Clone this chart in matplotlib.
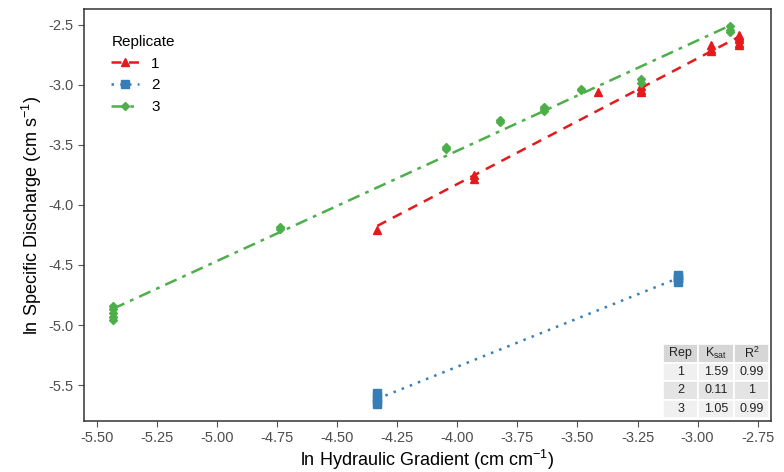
import numpy as np
import matplotlib.pyplot as plt

plt.rcParams['font.family'] = ['Liberation Sans', 'DejaVu Sans']
plt.rcParams['axes.unicode_minus'] = False
plt.rcParams['mathtext.default'] = 'regular'

# ln hydraulic gradient / ln specific discharge, per replicate
x1 = [-4.333, -3.929, -3.929, -3.415, -3.235, -3.235, -3.235,
      -2.945, -2.945, -2.945, -2.828, -2.828, -2.828, -2.828]
y1 = [-4.21, -3.75, -3.78, -3.06, -3.01, -3.04, -3.06,
      -2.67, -2.70, -2.72, -2.58, -2.62, -2.65, -2.67]
x2 = [-4.333, -4.333, -4.333, -4.333, -3.082, -3.082, -3.082]
y2 = [-5.57, -5.60, -5.63, -5.66, -4.58, -4.61, -4.64]
x3 = [-5.433, -5.433, -5.433, -5.433, -5.433, -4.738, -4.738,
      -4.046, -4.046, -3.822, -3.822, -3.64, -3.64, -3.64,
      -3.485, -3.485, -3.235, -3.235, -2.867, -2.867]
y3 = [-4.84, -4.87, -4.90, -4.93, -4.96, -4.18, -4.20,
      -3.52, -3.53, -3.29, -3.31, -3.18, -3.20, -3.22,
      -3.03, -3.04, -2.95, -2.98, -2.54, -2.56]

reps = ['1', '2', '3']
ksat = ['1.59', '0.11', '1.05']
r2 = ['0.99', '1', '0.99']

colors = ['#E41A1C', '#377EB8', '#4DAF4A']
markers = ['^', 's', 'D']
msizes = [6, 5.5, 4.2]
styles = [(0, (4, 3)), (0, (1, 2.5)), (0, (5, 2.5, 1.5, 2.5))]

fig = plt.figure(figsize=(7.84, 4.72), dpi=100)
ax = fig.add_axes([0.107, 0.108, 0.876, 0.873])

for xs, ys, c, m, ms, ls, lab in zip([x1, x2, x3], [y1, y2, y3], colors,
                                     markers, msizes, styles, reps):
    xs = np.array(xs)
    ys = np.array(ys)
    k, b = np.polyfit(xs, ys, 1)
    xl = np.array([xs.min(), xs.max()])
    ax.plot(xl, k * xl + b, color=c, lw=1.8, ls=ls, label=lab,
            marker=m, ms=ms, markevery=[1])
    ax.plot(xs, ys, ls='none', marker=m, ms=ms, color=c, mec=c)

ax.set_xlim(-5.554, -2.696)
ax.set_ylim(-5.8, -2.367)
ax.set_xticks(np.arange(-5.5, -2.74, 0.25))
ax.set_xticklabels(['%.2f' % v for v in np.arange(-5.5, -2.74, 0.25)])
ax.set_yticks(np.arange(-5.5, -2.49, 0.5))
ax.tick_params(colors='#555555', labelcolor='#4d4d4d', labelsize=10.5,
               length=4)
for s in ax.spines.values():
    s.set_color('#333333')
    s.set_linewidth(1.1)

ax.set_xlabel('ln Hydraulic Gradient (cm cm$^{-1}$)', fontsize=13, labelpad=2)
ax.set_ylabel('ln Specific Discharge (cm s$^{-1}$)', fontsize=13, labelpad=3)

leg = ax.legend(title='Replicate', loc='upper left', bbox_to_anchor=(0.02, 0.97),
                frameon=False, fontsize=11, title_fontsize=11,
                handlelength=1.8, labelspacing=0.5)
leg._legend_box.align = 'left'

cells = [[reps[i], ksat[i], r2[i]] for i in range(3)]
tab = ax.table(cellText=cells, colLabels=['Rep', 'K$_{sat}$', 'R$^2$'],
               bbox=[0.843, 0.007, 0.155, 0.18], cellLoc='center')
tab.auto_set_font_size(False)
row_cols = ['#d6d6d6', '#f0f0f0', '#e4e4e4', '#f0f0f0']
for (r, c), cell in tab.get_celld().items():
    cell.set_edgecolor('white')
    cell.set_linewidth(1.2)
    cell.set_facecolor(row_cols[r])
    cell.set_fontsize(9)
    cell.get_text().set_color('#222222')

fig.savefig('out.png', dpi=100)
